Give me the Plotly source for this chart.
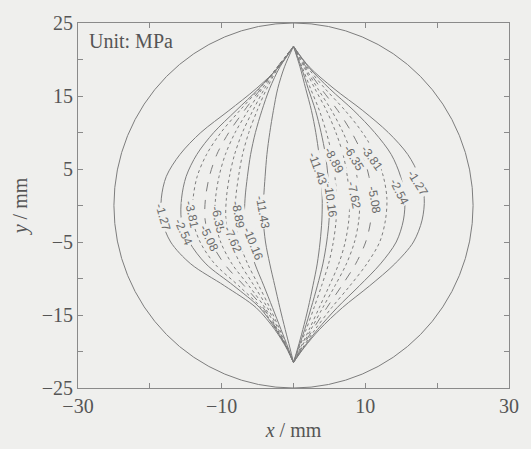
import plotly.graph_objects as go

# ---- data ----
levels = [-1.27, -2.54, -3.81, -5.08, -6.35, -7.62, -8.89, -10.16, -11.43]
level_text = ["-1.27", "-2.54", "-3.81", "-5.08", "-6.35", "-7.62", "-8.89", "-10.16", "-11.43"]

# y positions (mm) at which the contour half-widths were read
y_grid = [21.8, 19, 16, 13, 10, 7, 4, 1, -2, -5, -8, -11, -14, -17, -19.5, -21.5]

# x (mm) of each contour on the left side of the lens, per level
left_x = [
    [0, -2.0, -5.2, -9.0, -12.9, -15.8, -17.7, -18.4, -18.3, -17.1, -14.3, -9.6, -5.2, -2.6, -1.0, 0],
    [0, -2.09, -4.84, -8.0, -11.1, -13.45, -14.94, -15.58, -15.6, -14.5, -12.19, -8.31, -4.7, -2.44, -0.92, 0],
    [0, -2.2, -4.76, -7.49, -10.1, -12.1, -13.4, -13.97, -14.0, -13.0, -10.96, -7.63, -4.5, -2.4, -0.95, 0],
    [0, -2.23, -4.55, -6.86, -9.0, -10.67, -11.7, -12.25, -12.3, -11.44, -9.64, -6.86, -4.23, -2.32, -0.94, 0],
    [0, -2.23, -4.36, -6.32, -8.12, -9.48, -10.36, -10.85, -10.9, -10.14, -8.56, -6.21, -3.98, -2.23, -0.93, 0],
    [0, -2.15, -4.04, -5.66, -7.11, -8.2, -8.91, -9.34, -9.4, -8.74, -7.39, -5.48, -3.63, -2.08, -0.88, 0],
    [0, -2.05, -3.73, -5.06, -6.22, -7.09, -7.65, -8.04, -8.1, -7.53, -6.38, -4.82, -3.3, -1.92, -0.83, 0],
    [0, -1.88, -3.33, -4.4, -5.3, -5.97, -6.41, -6.74, -6.8, -6.32, -5.37, -4.13, -2.92, -1.73, -0.75, 0],
    [0, -1.25, -2.2, -2.8, -3.3, -3.7, -3.95, -4.15, -4.2, -3.9, -3.3, -2.6, -1.9, -1.15, -0.5, 0],
]

# x (mm) of each contour on the right side of the lens, per level
right_x = [
    [0, 2.18, 5.64, 9.65, 13.2, 15.9, 17.5, 18.2, 17.9, 16.7, 14.1, 10.6, 6.8, 3.6, 1.46, 0],
    [0, 2.06, 5.03, 8.4, 11.3, 13.6, 14.9, 15.5, 15.3, 14.3, 12.1, 9.17, 6.07, 3.34, 1.38, 0],
    [0, 1.9, 4.4, 7.2, 9.59, 11.4, 12.5, 13.0, 12.8, 12.0, 10.2, 7.85, 5.31, 3.0, 1.27, 0],
    [0, 1.73, 3.85, 6.17, 8.1, 9.6, 10.5, 10.9, 10.76, 10.05, 8.65, 6.71, 4.64, 2.69, 1.16, 0],
    [0, 1.59, 3.38, 5.31, 6.9, 8.12, 8.83, 9.2, 9.09, 8.49, 7.36, 5.77, 4.07, 2.42, 1.06, 0],
    [0, 1.45, 2.98, 4.6, 5.9, 6.9, 7.49, 7.8, 7.7, 7.2, 6.29, 4.98, 3.58, 2.17, 0.97, 0],
    [0, 1.19, 2.38, 3.61, 4.58, 5.32, 5.76, 6.0, 5.93, 5.54, 4.88, 3.91, 2.86, 1.76, 0.8, 0],
    [0, 1.06, 2.05, 3.07, 3.84, 4.44, 4.8, 5.0, 4.95, 4.62, 4.09, 3.32, 2.46, 1.55, 0.7, 0],
    [0, 0.9, 1.7, 2.5, 3.1, 3.55, 3.85, 4.0, 3.95, 3.7, 3.3, 2.7, 2.05, 1.3, 0.6, 0],
]

# contour label positions (mm) and text angles
left_label_x = [-18.2, -15.3, -14.2, -11.8, -10.5, -8.4, -7.7, -5.7, -4.3]
left_label_y = [-1.6, -3.6, -1.2, -4.5, -2.0, -4.7, -1.3, -5.2, -0.9]
left_label_angle = [74, 66, 78, 64, 78, 66, 80, 68, 80]
right_label_x = [17.3, 14.7, 10.9, 11.3, 8.4, 8.4, 5.6, 5.1, 3.3]
right_label_y = [3.1, 1.8, 6.5, 0.8, 6.5, 1.4, 6.2, 0.7, 5.1]
right_label_angle = [58, 63, 54, 80, 58, 78, 62, 82, 70]

section_radius = 25

x_tick_vals = [-30, -20, -10, 0, 10, 20, 30]
x_tick_text = ["\u221230", "", "\u221210", "", "10", "", "30"]
y_tick_vals = [-25, -20, -15, -10, -5, 0, 5, 10, 15, 20, 25]
y_tick_text = ["\u221225", "", "\u221215", "", "\u22125", "", "5", "", "15", "", "25"]

# ---- styles ----
bg = "#efefed"
line_col = "#7d7d7d"
text_col = "#555555"
serif = "Liberation Serif, Times New Roman, serif"
dashes = ["solid", "solid", "dot", "dash", "dot", "dot", "dot", "solid", "solid"]

fig = go.Figure()

for i, lev in enumerate(levels):
    for xs in (left_x[i], right_x[i]):
        fig.add_trace(go.Scatter(
            x=xs, y=y_grid, mode="lines",
            line=dict(color=line_col, width=1, dash=dashes[i], shape="spline", smoothing=0.9),
            hoverinfo="skip", showlegend=False,
        ))

fig.add_shape(type="circle", xref="x", yref="y",
              x0=-section_radius, x1=section_radius, y0=-section_radius, y1=section_radius,
              line=dict(color=line_col, width=1))

for i, t in enumerate(level_text):
    fig.add_annotation(x=left_label_x[i], y=left_label_y[i], text=t, textangle=left_label_angle[i],
                       showarrow=False, font=dict(family="Liberation Sans", size=12, color="#6a6a6a"),
                       bgcolor=bg, borderpad=0)
    fig.add_annotation(x=right_label_x[i], y=right_label_y[i], text=t, textangle=right_label_angle[i],
                       showarrow=False, font=dict(family="Liberation Sans", size=12, color="#6a6a6a"),
                       bgcolor=bg, borderpad=0)

fig.add_annotation(xref="paper", yref="paper", x=0.02, y=0.985, xanchor="left", yanchor="top",
                   text="Unit: MPa", showarrow=False,
                   font=dict(family=serif, size=20, color=text_col))

axis_common = dict(
    showgrid=False, zeroline=False, showline=True, linecolor="#8a8a8a", linewidth=1,
    mirror="ticks", ticks="inside", ticklen=5, tickcolor="#8a8a8a",
    tickfont=dict(family=serif, size=20, color=text_col),
)

fig.update_layout(
    width=531, height=449,
    margin=dict(l=78, r=17, t=22, b=54),
    paper_bgcolor=bg, plot_bgcolor=bg,
    xaxis=dict(range=[-30, 30], tickmode="array", tickvals=x_tick_vals, ticktext=x_tick_text,
               title=dict(text="<i>x</i> / mm", font=dict(family=serif, size=20, color=text_col),
                          standoff=6),
               **axis_common),
    yaxis=dict(range=[-25, 25], tickmode="array", tickvals=y_tick_vals, ticktext=y_tick_text,
               title=dict(text="<i>y</i> / mm", font=dict(family=serif, size=20, color=text_col),
                          standoff=8),
               **axis_common),
)

fig.write_html("out.html")
